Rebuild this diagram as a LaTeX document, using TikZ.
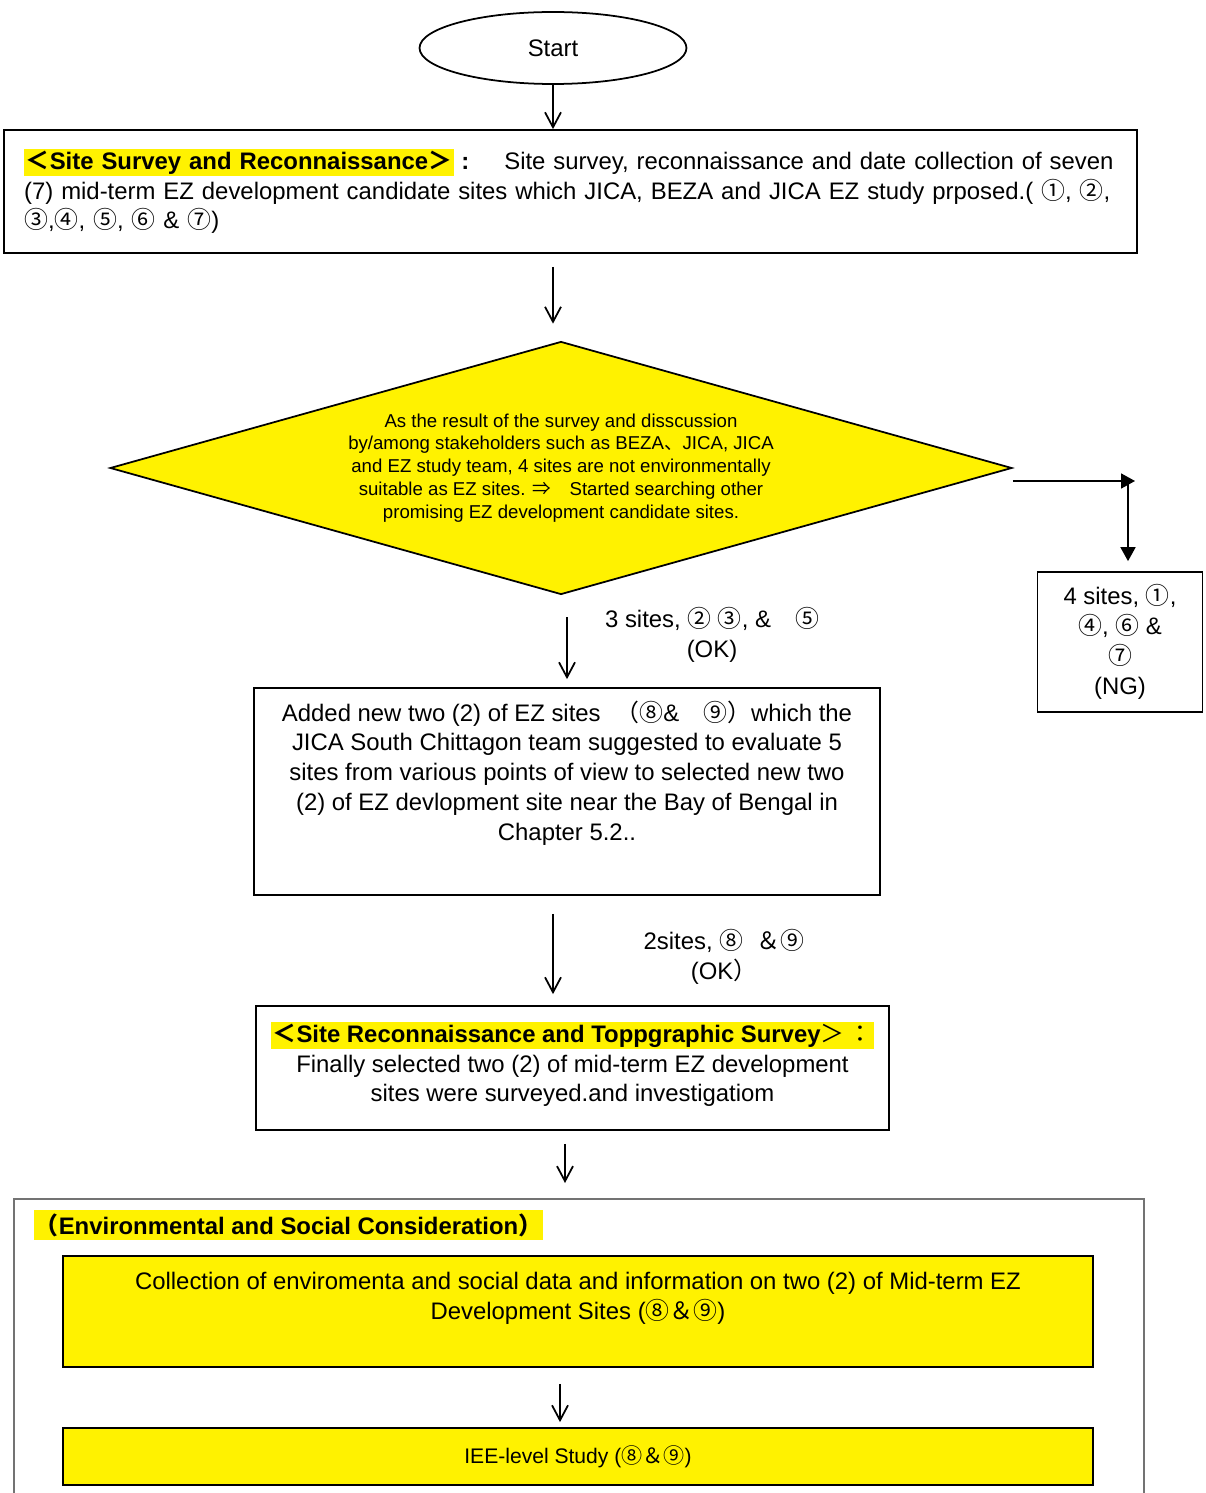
\documentclass[tikz,border=0pt]{standalone}
\usepackage{fontspec}
\setmainfont{Liberation Sans}
\newfontfamily\cjk{Noto Sans CJK JP}
\usetikzlibrary{shapes.geometric,arrows.meta}
\newcommand{\cn}[1]{{\cjk #1}}
\newcommand{\hl}[1]{{\setlength{\fboxsep}{1pt}\colorbox{yellow}{#1}}}

\begin{document}
\begin{tikzpicture}[x=0.02cm,y=-0.02cm]
		\tikzset{box/.style = {draw, line width=1pt, align=center, inner sep=0pt, font=\fontsize{13.6}{17}\selectfont},
			ybox/.style = {box, fill=yellow},
			lbl/.style = {align=center, font=\fontsize{13.6}{17}\selectfont},
			arr/.style = {line width=1pt, -{Straight Barb[length=0.3cm,width=0.32cm]}},
			tri/.style = {line width=1pt, -{Triangle[length=0.28cm,width=0.3cm]}}}

		\useasboundingbox (0,0) rectangle (1205,1493);

		\node[box, ellipse, minimum width=5.34cm, minimum height=1.44cm] (F_1) at (553,48) {Start};
		\node[box, align=left, text width=21.86cm, minimum height=2.46cm, inner xsep=0.4cm] (F_2) at (570.5,191.5) {\hl{\textbf{\cn{＜}Site Survey and Reconnaissance\cn{＞}}}\hspace{0.15cm}\textbf{:}\hspace{0.7cm}Site survey, reconnaissance and date collection of seven\\ (7) mid-term EZ development candidate sites which JICA, BEZA and JICA EZ study prposed.( \cn{①}, \cn{②},\\ \cn{③},\cn{④}, \cn{⑤}, \cn{⑥} \& \cn{⑦})};
		\node[box, diamond, fill=yellow, aspect=3.5, minimum width=18.04cm, minimum height=5.06cm, font=\fontsize{10.6}{13}\selectfont] (F_3) at (561,468) {As the result of the survey and disscussion\\ by/among stakeholders such as BEZA\cn{、}JICA, JICA\\ and EZ study team, 4 sites are not environmentally\\ suitable as EZ sites. \cn{⇒}\quad Started searching other\\ promising EZ development candidate sites.};
		\node[box, minimum width=3.3cm, minimum height=2.8cm] (F_4) at (1120,642) {4 sites, \cn{①},\\ \cn{④}, \cn{⑥} \&\\ \cn{⑦}\\ (NG)};
		\node[box, minimum width=12.52cm, minimum height=4.14cm] (F_5) at (567,791.5) {Added new two (2) of EZ sites\hspace{0.3cm}\cn{（⑧}\&\quad\cn{⑨）}which the\\ JICA South Chittagon team suggested to evaluate 5\\ sites from various points of view to selected new two\\ (2) of EZ devlopment site near the Bay of Bengal in\\ Chapter 5.2..\rule[-0.84cm]{0pt}{0pt}};
		\node[box, minimum width=12.66cm, minimum height=2.48cm] (F_6) at (572.5,1068) {\hl{\textbf{\cn{＜}Site Reconnaissance and Toppgraphic Survey}\cn{＞}\,\cn{：}}\\ Finally selected two (2) of mid-term EZ development\\ sites were surveyed.and investigatiom\rule[-0.24cm]{0pt}{0pt}};

		\node[lbl] (L_1) at (712,635) {3 sites, \cn{②} \cn{③}, \&\quad\cn{⑤}\\ (OK)};
		\node[lbl] (L_2) at (724,957) {2sites, \cn{⑧}\ \ \cn{＆⑨}\\ (OK\cn{）}};

		\draw[black!55, line width=0.6pt] (14,1493) -- (14,1199) -- (1144,1199) -- (1144,1493);
		\node[fill=yellow, minimum width=10.18cm, minimum height=0.6cm, inner sep=0pt, font=\bfseries\fontsize{13.6}{17}\selectfont] (H_1) at (288.5,1225) {\cn{（}Environmental and Social Consideration\cn{）}};
		\node[ybox, minimum width=20.6cm, minimum height=2.22cm] (F_7) at (578,1311.5) {Collection of enviromenta and social data and information on two (2) of Mid-term EZ\\ Development Sites (\cn{⑧＆⑨})\rule[-0.62cm]{0pt}{0pt}};
		\node[ybox, minimum width=20.6cm, minimum height=1.14cm, font=\fontsize{12}{15}\selectfont] (F_8) at (578,1456.5) {IEE-level Study (\cn{⑧＆⑨})};

		\coordinate (C_1) at (1135,481);
		\coordinate (C_2) at (1128,481);
		\coordinate (C_3) at (565,1183);

		\draw[arr] (F_1.south) -- (F_1.south |- F_2.north);
		\draw[arr, shorten <=0.26cm, shorten >=0.34cm] (F_2.south -| F_1.south) -- (F_3.north -| F_1.south);
		\draw[arr, shorten <=0.44cm, shorten >=0.16cm] (F_3.south -| F_5.north) -- (F_5.north);
		\draw[arr, shorten <=0.36cm, shorten >=0.22cm] (F_5.south -| F_1.south) -- (F_6.north -| F_1.south);
		\draw[arr, shorten <=0.26cm] (F_6.south -| C_3) -- (C_3);
		\draw[arr, shorten <=0.32cm, shorten >=0.1cm] ([xshift=-0.36cm]F_7.south) -- ([xshift=-0.36cm]F_8.north);
		\draw[tri] (F_3.east |- C_1) -- (C_1);
		\draw[tri, shorten >=0.2cm] (C_2) -- (C_2 |- F_4.north);

	\end{tikzpicture}
\end{document}
